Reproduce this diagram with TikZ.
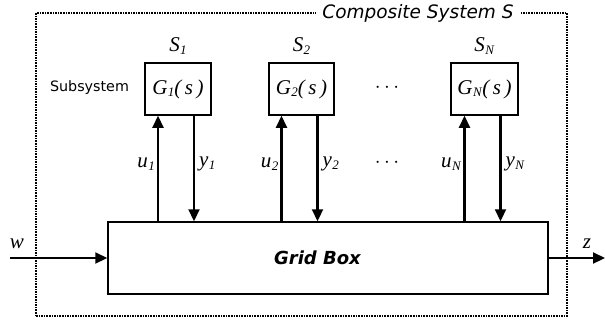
\documentclass[tikz,border=0pt]{standalone}
\usepackage{fontspec}
\setmainfont{Liberation Serif}
\newfontfamily\dvsans{DejaVu Sans}
\usetikzlibrary{arrows.meta}
\newcommand\sbx[1]{\raisebox{-0.3ex}{\fontsize{13}{13}\selectfont\textit{#1}}}
\newcommand\mvar[2]{\textit{#1}\kern0.02em\sbx{#2}}
\tikzset{
  blk/.style={draw, line width=1.5pt, inner sep=0pt, fill=white},
  arr/.style={line width=2.2pt, -{Triangle[width=11pt,length=12pt]}},
  mlab/.style={font=\fontsize{21}{21}\selectfont, inner sep=0pt},
  slab/.style={font=\dvsans\fontsize{14.3}{14.3}\selectfont, inner sep=0pt}
}
\begin{document}
\begin{tikzpicture}[x=1pt,y=-1pt]
\useasboundingbox (0,0) rectangle (605,325);
% outer composite system
\node (outer) [draw, densely dotted, line width=1.6pt, minimum width=531pt, minimum height=303pt, inner sep=0pt] at (301.5,164.5) {};
\node (title) [fill=white, inner xsep=6pt, inner ysep=1pt, font=\dvsans\itshape\fontsize{18.5}{18.5}\selectfont] at (418,13) {Composite System S};
% subsystems
\node (g1) [blk, mlab, minimum width=66pt, minimum height=52pt] at (178,89) {\mvar{G}{1}\textit{(\,s\,)}};
\node (g2) [blk, mlab, minimum width=65pt, minimum height=52pt] at (301.5,89) {\mvar{G}{2}\textit{(\,s\,)}};
\node (gN) [blk, mlab, minimum width=67pt, minimum height=52pt] at (484.5,89) {\mvar{G}{N}\textit{(\,s\,)}};
\node (s1) [mlab] at (178,46) {\mvar{S}{1}};
\node (s2) [mlab] at (301.5,46) {\mvar{S}{2}};
\node (sN) [mlab] at (484.5,46) {\mvar{S}{N}};
\node (sub) [slab] at (89.5,88) {Subsystem};
\node (dots1) [mlab] at (387,88) {$\cdots$};
% grid box
\node (grid) [blk, minimum width=440pt, minimum height=72pt] at (328,258) {};
\node (gridlab) [inner sep=0pt, font=\dvsans\bfseries\itshape\fontsize{18}{18}\selectfont] at (317.5,258) {Grid Box};
% connectors
\foreach \g/\i in {g1/1, g2/2, gN/N}{
  \coordinate (u\i) at ([xshift=-20pt]\g.south);
  \coordinate (y\i) at ([xshift=16pt]\g.south);
  \draw[arr] (u\i |- grid.north) -- (u\i);
  \draw[arr] (y\i) -- (y\i |- grid.north);
  \node (ul\i) [mlab, anchor=east] at ([xshift=-3pt,yshift=-48pt]u\i) {\mvar{u}{\i}};
  \node (yl\i) [mlab, anchor=west] at ([xshift=5pt,yshift=-48pt]y\i) {\mvar{y}{\i}};
}
\node (dots2) [mlab] at (387,163) {$\cdots$};
\coordinate (win) at (10,258);
\coordinate (zout) at (605,258);
\draw[arr] (win) -- (grid.west);
\draw[arr] (grid.east) -- (zout);
\node (wl) [mlab] at (17,244) {\textit{w}};
\node (zl) [mlab] at (587,244) {\textit{z}};
\end{tikzpicture}
\end{document}
